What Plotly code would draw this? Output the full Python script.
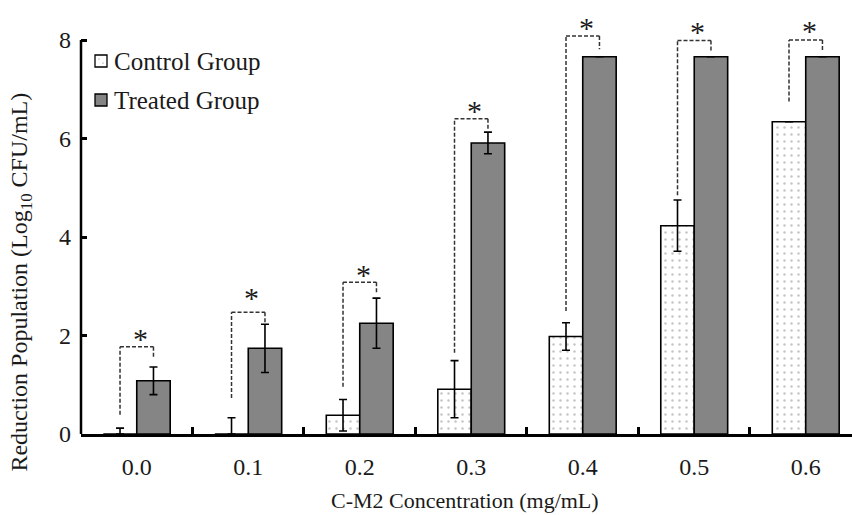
import plotly.graph_objects as go

# C-M2 concentration levels (mg/mL)
concentrations = ["0.0", "0.1", "0.2", "0.3", "0.4", "0.5", "0.6"]

# Reduction population, Log10 CFU/mL
control_mean = [0.00, 0.00, 0.38, 0.91, 1.98, 4.23, 6.34]
control_err = [0.12, 0.33, 0.32, 0.58, 0.28, 0.52, None]
treated_mean = [1.08, 1.74, 2.25, 5.91, 7.66, 7.66, 7.66]
treated_err = [0.28, 0.49, 0.51, 0.22, None, None, None]

# significance brackets: start above control, top level, end above treated, star level
bracket_left = [0.39, 0.73, 0.96, 1.65, 2.50, 4.85, 6.75]
bracket_top = [1.77, 2.47, 3.08, 6.40, 8.08, 7.99, 8.00]
bracket_right = [1.54, 2.25, 2.86, 6.19, 7.81, 7.76, 7.76]
star_level = [2.07, 2.89, 3.36, 6.70, 8.37, 8.30, 8.32]

series_names = ["Control Group", "Treated Group"]

FONT = "Liberation Serif"
INK = "#1a1a1a"
CONTROL_FILL = "white"
TREATED_FILL = "#858585"

# plot area in pixels, used to place the key in paper units
W, H = 852, 515
L, R, T, B = 81, 0, 5, 81
PW, PH = W - L - R, H - T - B


def px_x(px):
    return (px - L) / PW


def px_y(py):
    return (H - B - py) / PH


def err_minus(means, errs):
    return [None if e is None else min(m, e) for m, e in zip(means, errs)]


fig = go.Figure()

fig.add_trace(go.Bar(
    name=series_names[0],
    x=concentrations,
    y=control_mean,
    marker=dict(
        color=CONTROL_FILL,
        line=dict(color="black", width=1.6),
        pattern=dict(shape=".", fgcolor="#8a8a8a", bgcolor="white", size=7, solidity=0.1),
    ),
    error_y=dict(type="data", array=control_err, arrayminus=err_minus(control_mean, control_err),
                 color="black", thickness=1.6, width=4),
    showlegend=False,
))

fig.add_trace(go.Bar(
    name=series_names[1],
    x=concentrations,
    y=treated_mean,
    marker=dict(color=TREATED_FILL, line=dict(color="black", width=1.6)),
    error_y=dict(type="data", array=treated_err, color="black", thickness=1.6, width=4),
    showlegend=False,
))

# dashed significance brackets with asterisks
dash_style = dict(color="#333333", width=1.5, dash="4px,2px")
for i in range(len(concentrations)):
    xl, xr = i - 0.15, i + 0.15
    fig.add_shape(type="line", xref="x", yref="y", x0=xl, x1=xl,
                  y0=bracket_left[i], y1=bracket_top[i], line=dash_style)
    fig.add_shape(type="line", xref="x", yref="y", x0=xl, x1=xr,
                  y0=bracket_top[i], y1=bracket_top[i], line=dash_style)
    fig.add_shape(type="line", xref="x", yref="y", x0=xr, x1=xr,
                  y0=bracket_top[i], y1=bracket_right[i], line=dash_style)
    fig.add_annotation(x=i + 0.03, y=star_level[i], xref="x", yref="y", text="*",
                       showarrow=False, yshift=-6,
                       font=dict(family=FONT, size=30, color=INK))

# left axis line spans 0-8 only
fig.add_shape(type="line", xref="paper", yref="y", x0=0, x1=0, y0=0, y1=8,
              line=dict(color="black", width=2.5))

# key: swatch + label for each series
key_rows = [61, 100]
key_fills = [CONTROL_FILL, TREATED_FILL]
for name, fill, cy in zip(series_names, key_fills, key_rows):
    fig.add_shape(type="rect", xref="paper", yref="paper",
                  x0=px_x(95), x1=px_x(107), y0=px_y(cy + 6), y1=px_y(cy - 6),
                  fillcolor=fill, line=dict(color="black", width=1.3))
    fig.add_annotation(xref="paper", yref="paper", x=px_x(112), y=px_y(cy),
                       xanchor="left", yanchor="middle", text=name, showarrow=False,
                       font=dict(family=FONT, size=25, color=INK))
# a couple of dots in the control swatch
for dx, dy in [(-2, -2), (2, 2)]:
    fig.add_shape(type="circle", xref="paper", yref="paper",
                  x0=px_x(101 + dx - 0.6), x1=px_x(101 + dx + 0.6),
                  y0=px_y(key_rows[0] + dy + 0.6), y1=px_y(key_rows[0] + dy - 0.6),
                  fillcolor="#777777", line=dict(width=0))

# axis titles
fig.add_annotation(xref="paper", yref="paper", x=0.498, y=-0.155, yanchor="middle",
                   text="C-M2 Concentration (mg/mL)", showarrow=False,
                   font=dict(family=FONT, size=22, color=INK))
fig.add_annotation(xref="paper", yref="paper", x=-0.078, y=0.355, xanchor="center",
                   yanchor="middle", textangle=-90,
                   text="Reduction Population (Log<sub>10</sub> CFU/mL)", showarrow=False,
                   font=dict(family=FONT, size=24, color=INK))

fig.update_layout(
    width=W, height=H,
    margin=dict(l=L, r=R, t=T, b=B),
    paper_bgcolor="white", plot_bgcolor="white",
    barmode="group", bargap=0.4, bargroupgap=0,
    font=dict(family=FONT, size=22, color=INK),
    showlegend=False,
    xaxis=dict(
        type="category", range=[-0.5, 6.415],
        showline=True, linecolor="black", linewidth=2.5,
        ticks="inside", tickson="boundaries", ticklen=7, tickwidth=2.5, tickcolor="black",
        showgrid=False, zeroline=False, ticklabelstandoff=9,
        tickfont=dict(family=FONT, size=24, color=INK),
    ),
    yaxis=dict(
        range=[0, 8.711], tickvals=[0, 2, 4, 6, 8],
        showline=False, ticks="inside", ticklen=6, tickwidth=2.5, tickcolor="black",
        showgrid=False, zeroline=False, ticklabelstandoff=9,
        tickfont=dict(family=FONT, size=24, color=INK),
    ),
)

fig.write_html("out.html")
